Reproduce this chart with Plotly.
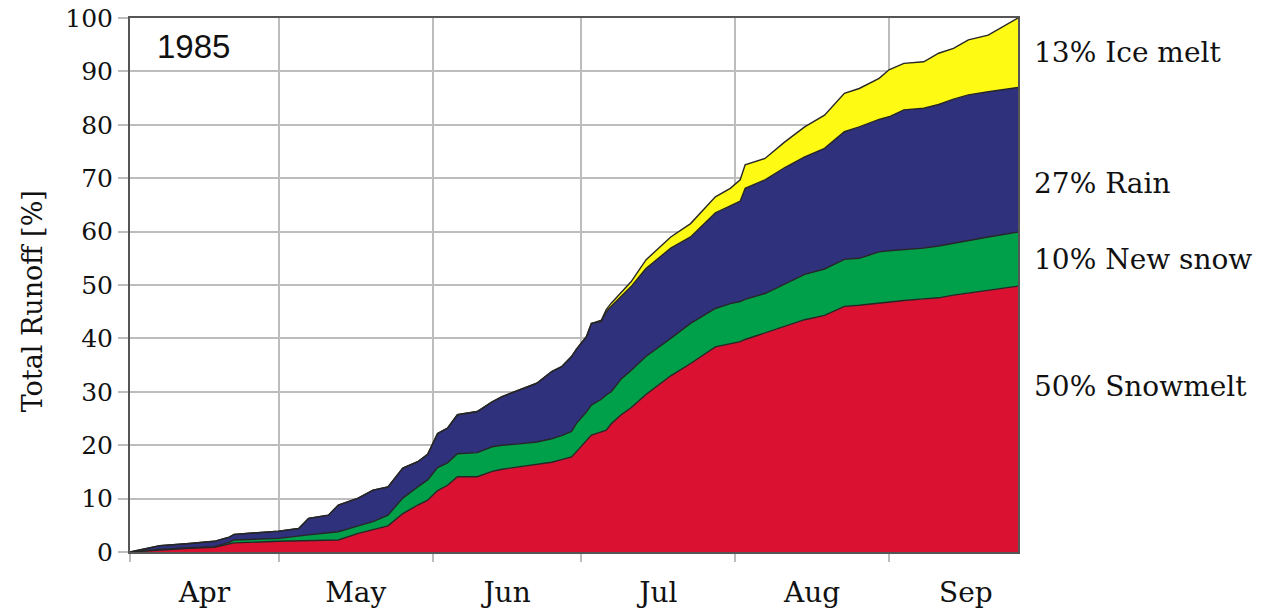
import plotly.graph_objects as go

dates = [
    "1985-04-01", "1985-04-07", "1985-04-13", "1985-04-18", "1985-04-21", "1985-04-22",
    "1985-05-01", "1985-05-05", "1985-05-07", "1985-05-11", "1985-05-13", "1985-05-17",
    "1985-05-20", "1985-05-23", "1985-05-26", "1985-05-29", "1985-05-31",
    "1985-06-02", "1985-06-04", "1985-06-06", "1985-06-10", "1985-06-13", "1985-06-15",
    "1985-06-18", "1985-06-22", "1985-06-25", "1985-06-27", "1985-06-29", "1985-06-30",
    "1985-07-02", "1985-07-03", "1985-07-05", "1985-07-06", "1985-07-07", "1985-07-09",
    "1985-07-11", "1985-07-14", "1985-07-19", "1985-07-23", "1985-07-28", "1985-07-31",
    "1985-08-02", "1985-08-03", "1985-08-07", "1985-08-11", "1985-08-15", "1985-08-19",
    "1985-08-23", "1985-08-26", "1985-08-30",
    "1985-09-01", "1985-09-04", "1985-09-08", "1985-09-11", "1985-09-14", "1985-09-17",
    "1985-09-21", "1985-09-27",
]

snowmelt = [
    0.0, 0.4, 0.7, 0.9, 1.5, 1.7,
    2.0, 2.1, 2.2, 2.2, 2.25, 3.5,
    4.2, 4.9, 7.2, 8.8, 9.7,
    11.5, 12.5, 14.1, 14.1, 15.1, 15.5,
    15.9, 16.3, 16.8, 17.3, 17.8, 18.8,
    20.8, 21.9, 22.5, 22.8, 24.0, 25.7,
    27.0, 29.5, 33.0, 35.3, 38.4, 39.0,
    39.4, 39.8, 41.0, 42.3, 43.5, 44.3,
    46.0, 46.2, 46.6,
    46.9, 47.1, 47.4, 47.6, 48.1, 48.5,
    49.1, 49.8,
]

new_snow = [
    0.0, 0.1, 0.1, 0.1, 0.3, 0.55,
    0.55, 0.8, 1.0, 1.4, 1.55, 1.4,
    1.5, 2.0, 2.9, 3.4, 3.8,
    4.3, 4.2, 4.3, 4.5, 4.6, 4.5,
    4.3, 4.3, 4.4, 4.5, 4.8, 5.3,
    5.4, 5.6, 6.1, 6.6, 6.0, 6.7,
    7.0, 7.1, 7.0, 7.5, 7.2, 7.5,
    7.5, 7.5, 7.4, 7.9, 8.5, 8.7,
    8.8, 8.8, 9.6,
    9.5, 9.5, 9.5, 9.7, 9.7, 9.9,
    9.9, 10.1,
]

rain = [
    0.0, 0.7, 0.8, 1.0, 1.0, 1.05,
    1.35, 1.5, 3.1, 3.3, 5.0, 5.2,
    5.9, 5.3, 5.6, 4.7, 4.8,
    6.4, 6.5, 7.3, 7.7, 8.4, 9.1,
    10.0, 11.0, 12.6, 12.9, 14.0, 13.9,
    14.1, 15.3, 14.6, 15.6, 16.0, 15.4,
    15.7, 16.5, 16.9, 16.2, 17.9, 18.3,
    18.8, 20.8, 21.3, 21.8, 22.0, 22.6,
    23.9, 24.6, 24.8,
    25.1, 26.2, 26.2, 26.5, 27.0, 27.2,
    27.2, 27.1,
]

ice_melt = [
    0.0, 0.0, 0.0, 0.0, 0.0, 0.0,
    0.0, 0.0, 0.0, 0.0, 0.0, 0.0,
    0.0, 0.0, 0.0, 0.0, 0.0,
    0.0, 0.0, 0.0, 0.0, 0.0, 0.0,
    0.0, 0.0, 0.0, 0.0, 0.0, 0.0,
    0.0, 0.0, 0.2, 0.4, 0.6, 0.7,
    0.9, 1.6, 2.1, 2.5, 3.0, 3.3,
    4.0, 4.4, 4.0, 4.8, 5.6, 6.2,
    7.2, 7.2, 7.7,
    8.8, 8.7, 8.7, 9.6, 9.5, 10.3,
    10.6, 13.0,
]

series_names = ["Snowmelt", "New snow", "Rain", "Ice melt"]
series_values = [snowmelt, new_snow, rain, ice_melt]
series_colors = ["#DA1131", "#00A04B", "#2F317D", "#FFFA14"]
side_labels = ["50% Snowmelt", "10% New snow", "27% Rain", "13% Ice melt"]
side_label_y = [0.309, 0.547, 0.691, 0.936]

y_ticks = [0, 10, 20, 30, 40, 50, 60, 70, 80, 90, 100]

SERIF = "DejaVu Serif"

fig = go.Figure()
for name, vals, col in zip(series_names, series_values, series_colors):
    fig.add_trace(go.Scatter(
        x=dates, y=vals, name=name, stackgroup="runoff", mode="lines",
        line=dict(color="#262626", width=1.4),
        fillcolor=col, showlegend=False,
    ))

for txt, yy in zip(side_labels, side_label_y):
    fig.add_annotation(
        text=txt, xref="paper", yref="paper", x=1.016, y=yy,
        xanchor="left", yanchor="middle", showarrow=False,
        font=dict(family=SERIF, size=28, color="#111"),
    )

fig.add_annotation(
    text="1985", xref="paper", yref="paper", x=0.028, y=0.946,
    xanchor="left", yanchor="middle", showarrow=False,
    font=dict(family="Liberation Sans", size=33, color="#111"),
)

fig.add_annotation(
    text="Total Runoff [%]", xref="paper", yref="paper", x=-0.110, y=0.47,
    xanchor="center", yanchor="middle", showarrow=False, textangle=-90,
    font=dict(family=SERIF, size=27, color="#111"),
)

fig.update_layout(
    width=1264, height=610,
    margin=dict(l=130, r=246, t=18, b=58),
    plot_bgcolor="white", paper_bgcolor="white",
    xaxis=dict(
        type="date", range=["1985-04-01", "1985-09-27"],
        dtick="M1", tick0="1985-04-01", tickformat="%b", ticklabelmode="period",
        showgrid=True, gridcolor="#bdbdbd", gridwidth=1.5,
        ticks="outside", ticklen=8, tickcolor="#bdbdbd", tickwidth=1.5,
        ticklabelstandoff=6,
        showline=True, linecolor="#555", linewidth=2, mirror=True,
        tickfont=dict(family=SERIF, size=28, color="#111"),
        zeroline=False, automargin=False,
    ),
    yaxis=dict(
        range=[0, 100], tickvals=y_ticks, ticklabeloverflow="allow",
        showgrid=True, gridcolor="#bdbdbd", gridwidth=1.5,
        ticks="outside", ticklen=10, tickcolor="#bdbdbd", tickwidth=1.5,
        showline=True, linecolor="#555", linewidth=2, mirror=True,
        tickfont=dict(family=SERIF, size=25, color="#111"),
        zeroline=False, automargin=False,
    ),
)

fig.write_html(
    "out.html",
    config={"displayModeBar": False},
    post_script="document.body.style.margin='0';document.body.style.overflow='hidden';",
)
